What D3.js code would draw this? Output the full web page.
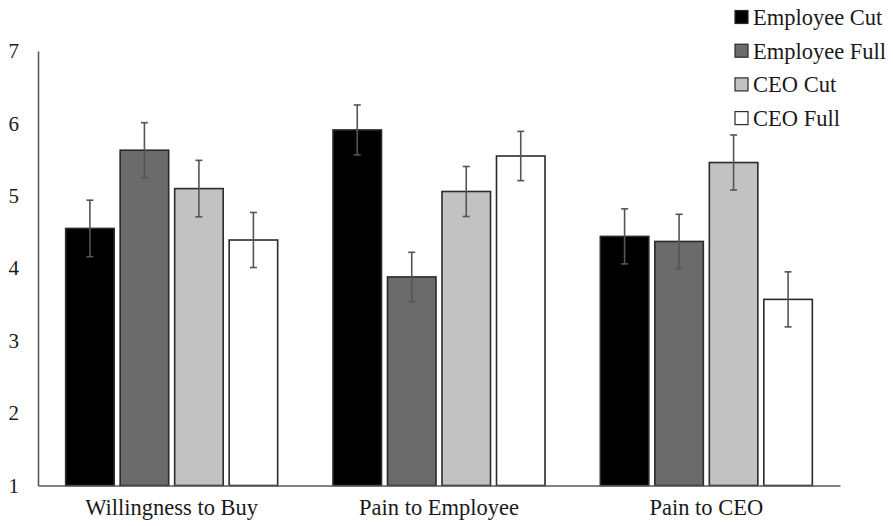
<!DOCTYPE html>
<html>
<head>
<meta charset="utf-8">
<script src="https://cdn.jsdelivr.net/npm/d3@7"></script>
<style>
  body { margin: 0; background: #fff; }
  svg text { font-family: "Liberation Serif", "Times New Roman", serif; fill: #1a1a1a; }
</style>
</head>
<body>
<div id="chart"></div>
<script>
var categories = ["Willingness to Buy", "Pain to Employee", "Pain to CEO"];
var seriesNames = ["Employee Cut", "Employee Full", "CEO Cut", "CEO Full"];
var seriesColors = ["#000000", "#6b6b6b", "#c2c2c2", "#ffffff"];
// means per series, in category order
var employeeCut = [4.55, 5.91, 4.44];
var employeeFull = [5.63, 3.88, 4.37];
var ceoCut = [5.10, 5.06, 5.46];
var ceoFull = [4.39, 5.55, 3.57];
// error bar half-widths
var employeeCutErr = [0.39, 0.345, 0.38];
var employeeFullErr = [0.38, 0.34, 0.375];
var ceoCutErr = [0.39, 0.345, 0.38];
var ceoFullErr = [0.38, 0.34, 0.38];
var yTicks = [1, 2, 3, 4, 5, 6, 7];

var seriesValues = [employeeCut, employeeFull, ceoCut, ceoFull];
var seriesErrs = [employeeCutErr, employeeFullErr, ceoCutErr, ceoFullErr];

var width = 893, height = 526;
var plotLeft = 38, plotRight = 840, plotTop = 51, plotBottom = 485.5;

var svg = d3.select("#chart").append("svg")
    .attr("width", width)
    .attr("height", height);

var xScale = d3.scaleBand().domain(categories).range([plotLeft, plotRight]);
var groupWidth = 212;
var x1 = d3.scaleBand().domain(seriesNames).range([0, groupWidth]).paddingInner(0.11);
var yScale = d3.scaleLinear().domain([1, 7]).range([plotBottom, plotTop]);

var data = [];
categories.forEach(function(c, i) {
    seriesNames.forEach(function(s, j) {
        data.push({cat: c, series: s, value: seriesValues[j][i], err: seriesErrs[j][i], color: seriesColors[j]});
    });
});

function barX(d) {
    return xScale(d.cat) + (xScale.bandwidth() - groupWidth) / 2 + x1(d.series);
}

// bars
svg.append("g").selectAll("rect")
    .data(data)
    .enter().append("rect")
    .attr("x", barX)
    .attr("y", function(d) { return yScale(d.value); })
    .attr("width", x1.bandwidth())
    .attr("height", function(d) { return yScale(1) - yScale(d.value); })
    .attr("fill", function(d) { return d.color; })
    .attr("stroke", "#2b2b2b")
    .attr("stroke-width", 1.6);

// error bars
var eb = svg.append("g").attr("stroke", "#555").attr("stroke-width", 1.6);
data.forEach(function(d) {
    var cx = barX(d) + x1.bandwidth() / 2;
    var y0 = yScale(d.value - d.err), y1 = yScale(d.value + d.err);
    eb.append("line").attr("x1", cx).attr("x2", cx).attr("y1", y0).attr("y2", y1);
    eb.append("line").attr("x1", cx - 3.5).attr("x2", cx + 3.5).attr("y1", y0).attr("y2", y0);
    eb.append("line").attr("x1", cx - 3.5).attr("x2", cx + 3.5).attr("y1", y1).attr("y2", y1);
});

// y axis
var yAxis = svg.append("g")
    .attr("transform", "translate(" + plotLeft + ",0)")
    .call(d3.axisLeft(yScale).tickValues(yTicks).tickSize(0).tickPadding(19).tickFormat(d3.format("d")));
yAxis.select(".domain").attr("stroke", "#595959").attr("stroke-width", 1.6);
yAxis.selectAll("text").attr("font-size", "21px").attr("fill", "#1a1a1a")
    .style("font-family", "'Liberation Serif', serif");

// x axis
var xAxis = svg.append("g")
    .attr("transform", "translate(0," + plotBottom + ")")
    .call(d3.axisBottom(xScale).tickSize(0).tickPadding(14));
xAxis.select(".domain").attr("stroke", "#595959").attr("stroke-width", 1.6);
xAxis.selectAll("text").attr("font-size", "22.5px").attr("fill", "#1a1a1a")
    .style("font-family", "'Liberation Serif', serif");

// legend
var legend = svg.append("g").attr("transform", "translate(735,17)");
seriesNames.forEach(function(s, i) {
    var row = legend.append("g").attr("transform", "translate(0," + (i * 33.7) + ")");
    row.append("rect")
        .attr("x", 0).attr("y", -6.5)
        .attr("width", 13).attr("height", 13)
        .attr("fill", seriesColors[i])
        .attr("stroke", "#2b2b2b")
        .attr("stroke-width", 1.2);
    row.append("text")
        .attr("x", 18).attr("y", 0)
        .attr("dy", "0.35em")
        .attr("font-size", "22.5px")
        .text(s);
});
</script>
</body>
</html>
